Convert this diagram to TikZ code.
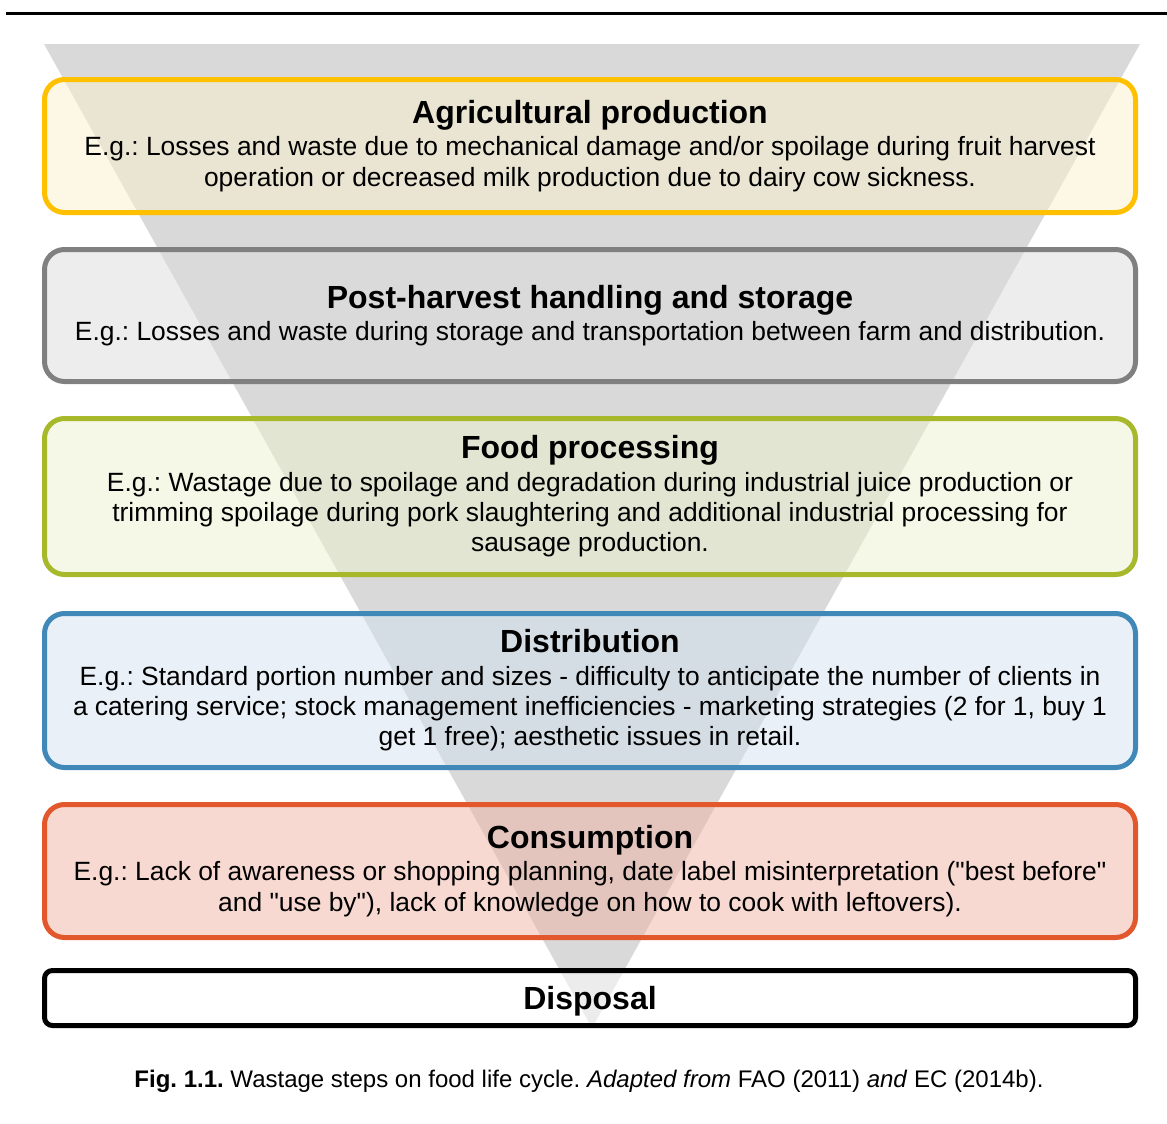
\documentclass[tikz,border=0pt]{standalone}
\usepackage{fontspec}
\setmainfont{Liberation Sans}[Ligatures=TeXOff]
\usepackage{tikz}
\frenchspacing

% frame and fill colours of the stages
\definecolor{agriline}{HTML}{FFC000}
\definecolor{agrifill}{RGB}{251,241,205}
\definecolor{postline}{HTML}{808080}
\definecolor{postfill}{RGB}{219,219,219}
\definecolor{procline}{HTML}{A8B82B}
\definecolor{procfill}{RGB}{235,241,205}
\definecolor{distline}{HTML}{4088B7}
\definecolor{distfill}{RGB}{211,225,239}
\definecolor{consline}{HTML}{E2572B}
\definecolor{consfill}{RGB}{239,179,163}
\definecolor{funnel}{HTML}{D9D9D9}

\begin{document}
\begin{tikzpicture}[
    x=0.5pt, y=-0.5pt,
    stage/.style={rectangle, rounded corners=10pt, line width=2.5pt,
        fill opacity=0.5, text opacity=1, minimum width=545.5pt,
        align=center, font=\fontsize{13.2}{15.2}\selectfont}
]
\useasboundingbox (0,0) rectangle (1167,1124);

% rule on top of the page
\draw[line width=1.5pt] (6,13) -- (1167,13);

% funnel behind the stages
\fill[funnel] (44,44) -- (1140,44) -- (592,1028) -- cycle;

% stages of the food life cycle
\node[stage, draw=agriline, fill=agrifill, minimum height=66.5pt] (agri) at (590,146)
    {{\fontsize{16}{18}\selectfont\bfseries Agricultural production}\\[1pt]
     E.g.: Losses and waste due to mechanical damage and/or spoilage during fruit harvest\\
     operation or decreased milk production due to dairy cow sickness.};

\node[stage, draw=postline, fill=postfill, minimum height=66pt] (post) at (590,315.5)
    {{\fontsize{16}{18}\selectfont\bfseries Post-harvest handling and storage}\\[1pt]
     E.g.: Losses and waste during storage and transportation between farm and distribution.};

\node[stage, draw=procline, fill=procfill, minimum height=78pt] (proc) at (590,496.5)
    {{\fontsize{16}{18}\selectfont\bfseries Food processing}\\[1pt]
     E.g.: Wastage due to spoilage and degradation during industrial juice production or\\
     trimming spoilage during pork slaughtering and additional industrial processing for\\
     sausage production.};

\node[stage, draw=distline, fill=distfill, minimum height=77pt] (dist) at (590,690.5)
    {{\fontsize{16}{18}\selectfont\bfseries Distribution}\\[1pt]
     E.g.: Standard portion number and sizes - difficulty to anticipate the number of clients in\\
     a catering service; stock management inefficiencies - marketing strategies (2 for 1, buy 1\\
     get 1 free); aesthetic issues in retail.};

\node[stage, draw=consline, fill=consfill, minimum height=66.5pt] (cons) at (590,871)
    {{\fontsize{16}{18}\selectfont\bfseries Consumption}\\[1pt]
     E.g.: Lack of awareness or shopping planning, date label misinterpretation ("best before"\\
     and "use by"), lack of knowledge on how to cook with leftovers).};

\node[stage, rounded corners=4pt, draw=black, fill=white, minimum height=27.5pt,
    text depth=0pt] (disp) at (590,998)
    {{\fontsize{16}{18}\selectfont\bfseries Disposal}};

% caption
\node[font=\fontsize{12}{14}\selectfont] (caption) at (589,1081)
    {\textbf{Fig. 1.1.} Wastage steps on food life cycle. \textit{Adapted from} FAO (2011) \textit{and} EC (2014b).};

\end{tikzpicture}
\end{document}
